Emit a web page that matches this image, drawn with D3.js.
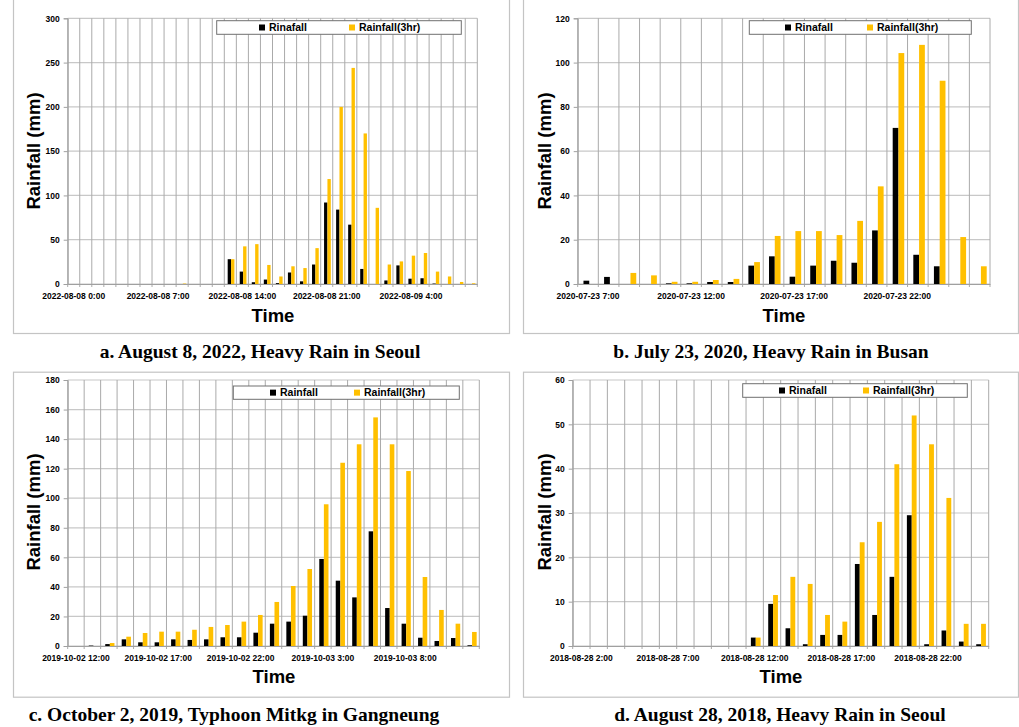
<!DOCTYPE html>
<html>
<head>
<meta charset="utf-8">
<script src="https://cdnjs.cloudflare.com/ajax/libs/d3/7.8.5/d3.min.js"></script>
<style>
  body { margin: 0; background: #fff; }
  svg { display: block; }
</style>
</head>
<body>
<div id="chart"></div>
<script>
// ---- data ----
var catsA = ["2022-08-08 0:00","2022-08-08 1:00","2022-08-08 2:00","2022-08-08 3:00","2022-08-08 4:00","2022-08-08 5:00","2022-08-08 6:00","2022-08-08 7:00","2022-08-08 8:00","2022-08-08 9:00","2022-08-08 10:00","2022-08-08 11:00","2022-08-08 12:00","2022-08-08 13:00","2022-08-08 14:00","2022-08-08 15:00","2022-08-08 16:00","2022-08-08 17:00","2022-08-08 18:00","2022-08-08 19:00","2022-08-08 20:00","2022-08-08 21:00","2022-08-08 22:00","2022-08-08 23:00","2022-08-09 0:00","2022-08-09 1:00","2022-08-09 2:00","2022-08-09 3:00","2022-08-09 4:00","2022-08-09 5:00","2022-08-09 6:00","2022-08-09 7:00","2022-08-09 8:00","2022-08-09 9:00"];
var rainA  = [0,0,0,0,0,0,0,0,0,0,0,0,0,28,14,2,5,1,13,3,22,92,84,67,17,0,4,21,6,6.5,0.5,0,0,0];
var rain3A = [0,0,0,0,0,0,0,0,0,0.5,0,0,0,28,42.5,45,21.5,8.5,20,18,40.5,118.5,200,244,170,86,22,25.5,32,35,14,8.5,2.3,0.8];
var ticksA = ["2022-08-08 0:00","2022-08-08 7:00","2022-08-08 14:00","2022-08-08 21:00","2022-08-09 4:00"];
var yTicksA = [0,50,100,150,200,250,300];

var catsB = ["2020-07-23 7:00","2020-07-23 8:00","2020-07-23 9:00","2020-07-23 10:00","2020-07-23 11:00","2020-07-23 12:00","2020-07-23 13:00","2020-07-23 14:00","2020-07-23 15:00","2020-07-23 16:00","2020-07-23 17:00","2020-07-23 18:00","2020-07-23 19:00","2020-07-23 20:00","2020-07-23 21:00","2020-07-23 22:00","2020-07-23 23:00","2020-07-24 0:00","2020-07-24 1:00","2020-07-24 2:00"];
var rainB  = [1.5,3.2,0,0,0.3,0.3,0.9,0.9,8.3,12.5,3.3,8.3,10.5,9.6,24.2,70.5,13.2,8,0,0];
var rain3B = [0,0,5,3.9,1,1,1.8,2.3,9.9,21.7,23.9,23.9,22.1,28.5,44.1,104.3,108,91.8,21.2,8];
var ticksB = ["2020-07-23 7:00","2020-07-23 12:00","2020-07-23 17:00","2020-07-23 22:00"];
var yTicksB = [0,20,40,60,80,100,120];

var catsC = ["2019-10-02 12:00","2019-10-02 13:00","2019-10-02 14:00","2019-10-02 15:00","2019-10-02 16:00","2019-10-02 17:00","2019-10-02 18:00","2019-10-02 19:00","2019-10-02 20:00","2019-10-02 21:00","2019-10-02 22:00","2019-10-02 23:00","2019-10-03 0:00","2019-10-03 1:00","2019-10-03 2:00","2019-10-03 3:00","2019-10-03 4:00","2019-10-03 5:00","2019-10-03 6:00","2019-10-03 7:00","2019-10-03 8:00","2019-10-03 9:00","2019-10-03 10:00","2019-10-03 11:00","2019-10-03 12:00"];
var rainC  = [0,0.3,1.3,4.5,2.5,2.5,4.5,4.1,4.5,5.9,5.9,9,15.1,16.5,20.5,58.9,44.2,32.9,77.6,25.7,15.1,5.6,3.4,5.4,0.5];
var rain3C = [0,0,2,6.3,8.8,9.7,9.7,11,12.9,14.2,16.5,21,29.8,40.6,52.1,95.9,124,136.5,154.7,136.5,118.4,46.7,24.4,15.1,9.5];
var ticksC = ["2019-10-02 12:00","2019-10-02 17:00","2019-10-02 22:00","2019-10-03 3:00","2019-10-03 8:00"];
var yTicksC = [0,20,40,60,80,100,120,140,160,180];

var catsD = ["2018-08-28 2:00","2018-08-28 3:00","2018-08-28 4:00","2018-08-28 5:00","2018-08-28 6:00","2018-08-28 7:00","2018-08-28 8:00","2018-08-28 9:00","2018-08-28 10:00","2018-08-28 11:00","2018-08-28 12:00","2018-08-28 13:00","2018-08-28 14:00","2018-08-28 15:00","2018-08-28 16:00","2018-08-28 17:00","2018-08-28 18:00","2018-08-28 19:00","2018-08-28 20:00","2018-08-28 21:00","2018-08-28 22:00","2018-08-28 23:00","2018-08-29 0:00","2018-08-29 1:00"];
var rainD  = [0,0,0,0,0,0,0,0,0,0,1.9,9.5,4,0.4,2.5,2.5,18.5,7,15.6,29.5,0.4,3.5,1,0.4];
var rain3D = [0,0,0,0,0,0,0,0,0,0,1.9,11.5,15.6,14,7,5.5,23.4,28,41,52,45.5,33.4,5,5];
var ticksD = ["2018-08-28 2:00","2018-08-28 7:00","2018-08-28 12:00","2018-08-28 17:00","2018-08-28 22:00"];
var yTicksD = [0,10,20,30,40,50,60];

var seriesNames = ["Rainfall","Rainfall(3hr)"];
var colors = ["#000000","#FFC000"];

var width = 1019, height = 727;

var svg = d3.select("#chart")
    .append("svg")
    .attr("width", width)
    .attr("height", height);

// panel layout
var panels = [
  {cats: catsA, s1: rainA, s2: rain3A, xt: ticksA, yt: yTicksA, leg1: "Rinafall",
   box: [13,-10,496,343], plot: [67.7,477.3,18.3,284], ytx: 33, yty: 151, timeX: 273, timeY: 322,
   legend: [216.7,20.7,244.6,13.6], sq: [259,349],
   caption: "a. August 8, 2022, Heavy Rain in Seoul", capX: 260, capY: 358},
  {cats: catsB, s1: rainB, s2: rain3B, xt: ticksB, yt: yTicksB, leg1: "Rinafall",
   box: [523,-10,495,343], plot: [577.7,990,18.3,284], ytx: 544, yty: 151, timeX: 784, timeY: 322,
   legend: [749.3,20.7,222,13.6], sq: [785,867],
   caption: "b. July 23, 2020, Heavy Rain in Busan", capX: 771, capY: 358},
  {cats: catsC, s1: rainC, s2: rain3C, xt: ticksC, yt: yTicksC, leg1: "Rainfall",
   box: [13,371.7,496,325], plot: [67.7,479.3,380,646], ytx: 33, yty: 512, timeX: 274, timeY: 683,
   legend: [233.3,386,226,13.3], sq: [270,354],
   caption: "c. October 2, 2019, Typhoon Mitkg in Gangneung", capX: 234, capY: 721},
  {cats: catsD, s1: rainD, s2: rain3D, xt: ticksD, yt: yTicksD, leg1: "Rinafall",
   box: [523,371.7,495,325], plot: [572.7,988.7,380,646], ytx: 544, yty: 512, timeX: 781, timeY: 683,
   legend: [742.7,383.7,224.6,13.6], sq: [779,863],
   caption: "d. August 28, 2018, Heavy Rain in Seoul", capX: 780, capY: 721}
];

panels.forEach(function(p) {
    var g = svg.append("g");
    var left = p.plot[0], right = p.plot[1], top = p.plot[2], bottom = p.plot[3];

    // outer frame
    g.append("rect")
        .attr("x", p.box[0] + 0.5).attr("y", p.box[1] + 0.5)
        .attr("width", p.box[2]).attr("height", p.box[3])
        .style("fill", "none")
        .style("stroke", "#c4c4c4")
        .style("stroke-width", 1.2);

    var x = d3.scaleBand()
        .domain(p.cats)
        .range([left, right])
        .padding(0);
    var bw = x.bandwidth();
    var x1 = d3.scaleBand()
        .domain([0, 1])
        .range([bw * 0.28, bw * 0.84])
        .padding(0);
    var y = d3.scaleLinear()
        .domain([0, d3.max(p.yt)])
        .range([bottom, top]);

    // horizontal gridlines
    g.selectAll(".hgrid")
        .data(p.yt)
        .enter()
        .append("line")
        .attr("x1", left).attr("x2", right)
        .attr("y1", function(d) { return y(d); })
        .attr("y2", function(d) { return y(d); })
        .style("stroke", "#c8c8c8")
        .style("stroke-width", 1.2);

    // vertical gridlines (category boundaries), extending as ticks below
    var bounds = p.cats.map(function(c) { return x(c); }).concat([right]);
    g.selectAll(".vgrid")
        .data(bounds)
        .enter()
        .append("line")
        .attr("x1", function(d) { return d; })
        .attr("x2", function(d) { return d; })
        .attr("y1", top)
        .attr("y2", bottom + 3)
        .style("stroke", "#aaaaaa")
        .style("stroke-width", 1);

    // y axis
    var yAxis = g.append("g")
        .attr("transform", "translate(" + left + ",0)")
        .call(d3.axisLeft(y).tickValues(p.yt).tickSize(4).tickPadding(4));
    yAxis.select(".domain").style("stroke", "#a0a0a0");
    yAxis.selectAll(".tick line").style("stroke", "#a0a0a0");
    yAxis.selectAll("text")
        .style("font-family", "'Liberation Sans', Arial, sans-serif")
        .style("font-weight", "bold")
        .style("font-size", "8.5px")
        .style("fill", "#000");

    // x axis
    var xAxis = g.append("g")
        .attr("transform", "translate(0," + bottom + ")")
        .call(d3.axisBottom(x).tickValues(p.xt).tickSize(0).tickPadding(9));
    xAxis.select(".domain").style("stroke", "#a0a0a0").style("stroke-width", 1.2);
    xAxis.selectAll("text")
        .style("font-family", "'Liberation Sans', Arial, sans-serif")
        .style("font-weight", "bold")
        .style("font-size", "8.5px")
        .style("fill", "#000");

    // bars
    var rows = p.cats.map(function(c, i) { return {cat: c, v: [p.s1[i], p.s2[i]]}; });
    var groups = g.selectAll(".cat")
        .data(rows)
        .enter()
        .append("g")
        .attr("transform", function(d) { return "translate(" + x(d.cat) + ",0)"; });
    groups.selectAll("rect")
        .data(function(d) { return d.v.map(function(v, k) { return {k: k, v: v}; }); })
        .enter()
        .append("rect")
        .filter(function(d) { return d.v > 0; })
        .attr("x", function(d) { return x1(d.k); })
        .attr("width", x1.bandwidth())
        .attr("y", function(d) { return y(d.v); })
        .attr("height", function(d) { return bottom - y(d.v); })
        .style("fill", function(d) { return colors[d.k]; });

    // legend
    var lg = g.append("g");
    lg.append("rect")
        .attr("x", p.legend[0]).attr("y", p.legend[1])
        .attr("width", p.legend[2]).attr("height", p.legend[3])
        .style("fill", "#fff")
        .style("stroke", "#707070")
        .style("stroke-width", 1);
    var labels = [p.leg1, seriesNames[1]];
    labels.forEach(function(t, k) {
        lg.append("rect")
            .attr("x", p.sq[k]).attr("y", p.legend[1] + p.legend[3] / 2 - 3)
            .attr("width", 6).attr("height", 6)
            .style("fill", colors[k]);
        lg.append("text")
            .attr("x", p.sq[k] + 10)
            .attr("y", p.legend[1] + p.legend[3] / 2 + 3.8)
            .text(t)
            .style("font-family", "'Liberation Sans', Arial, sans-serif")
            .style("font-weight", "bold")
            .style("font-size", "10.5px");
    });

    // axis titles
    g.append("text")
        .attr("transform", "translate(" + (p.ytx + 6.5) + "," + p.yty + ") rotate(-90)")
        .attr("text-anchor", "middle")
        .text("Rainfall (mm)")
        .style("font-family", "'Liberation Sans', Arial, sans-serif")
        .style("font-weight", "bold")
        .style("font-size", "18.5px");
    g.append("text")
        .attr("x", p.timeX).attr("y", p.timeY)
        .attr("text-anchor", "middle")
        .text("Time")
        .style("font-family", "'Liberation Sans', Arial, sans-serif")
        .style("font-weight", "bold")
        .style("font-size", "18.5px");

    // caption
    g.append("text")
        .attr("x", p.capX).attr("y", p.capY)
        .attr("text-anchor", "middle")
        .text(p.caption)
        .style("font-family", "'Liberation Serif', 'DejaVu Serif', serif")
        .style("font-weight", "bold")
        .style("font-size", "19.5px");
});
</script>
</body>
</html>
